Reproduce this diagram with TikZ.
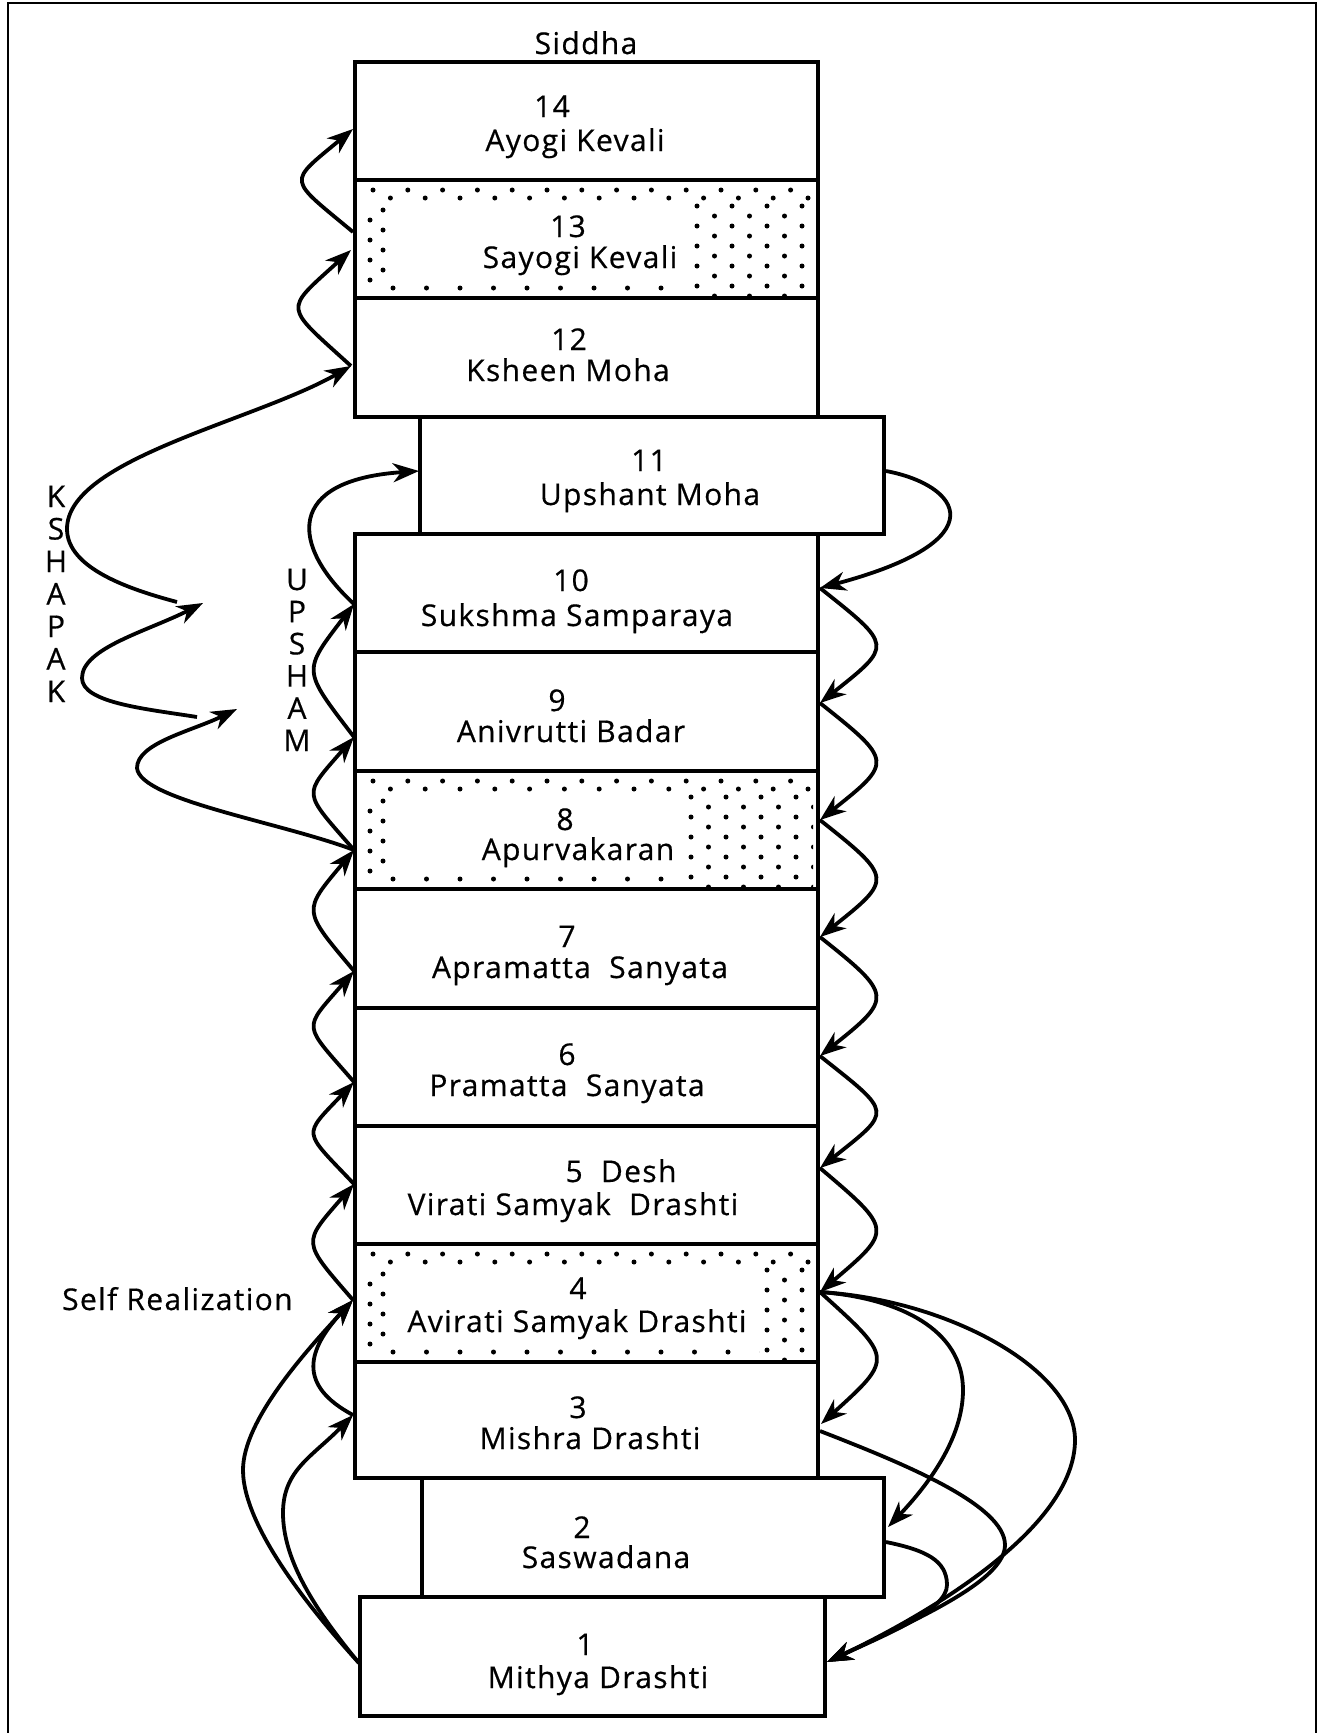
\documentclass[tikz,border=0pt]{standalone}
\usepackage{fontspec}
\setmainfont[LetterSpace=4.5,FakeBold=0.5]{Open Sans}
\usetikzlibrary{arrows.meta}
\newcommand\stipple[2]{%
\begin{scope}[shift={(#1.north west)}]
 \foreach \k in {0,...,12} {\fill (18+34.8*\k,10) circle[radius=2.5pt]; \fill (35.4+34.8*\k,18) circle[radius=2.5pt];}
 \foreach \k in {0,...,3} {\fill (28,30+20*\k) circle[radius=2.5pt]; \fill (15,40+20*\k) circle[radius=2.5pt];}
 \begin{scope}
  \clip (0,0) rectangle (#2-8,118);
  \foreach \k in {0,...,13} {\fill (38+33.5*\k,108) circle[radius=2.5pt];}
 \end{scope}
 \begin{scope}
  \clip (#2-3,0) rectangle (458,118);
  \foreach \i in {0,...,7} \foreach \j in {0,...,4} {\fill ({#2+17.5*\i},{26+20*\j+10*mod(\i,2)}) circle[radius=2.5pt];}
 \end{scope}
\end{scope}}
\begin{document}
\begin{tikzpicture}[x=1pt,y=-1pt,
  box/.style={draw, line width=4.2pt, outer sep=0pt, inner sep=0pt, minimum width=463pt},
  lbl/.style={anchor=base, inner sep=0pt, font=\fontsize{30}{36}\selectfont},
  arr/.style={line width=3.8pt, -{Stealth[length=26pt,width=19pt,inset=8pt]}}]
\useasboundingbox (0,0) rectangle (1320,1733);
\draw[line width=2.8pt] (8,1733) -- (8,3) -- (1316,3) -- (1316,1733);

% boxes
\node[box, minimum height=118pt] (b14) at (586.5,121) {};
\node[box, minimum height=118pt] (b13) at (586.5,239) {};
\node[box, minimum height=119pt] (b12) at (586.5,357.5) {};
\node[box, minimum height=117pt, minimum width=464pt] (b11) at (652,475.5) {};
\node[box, minimum height=118pt] (b10) at (586.5,593) {};
\node[box, minimum height=119pt] (b9) at (586.5,711.5) {};
\node[box, minimum height=118pt] (b8) at (586.5,830) {};
\node[box, minimum height=119pt] (b7) at (586.5,948.5) {};
\node[box, minimum height=118pt] (b6) at (586.5,1067) {};
\node[box, minimum height=118pt] (b5) at (586.5,1185) {};
\node[box, minimum height=118pt] (b4) at (586.5,1303) {};
\node[box, minimum height=116pt] (b3) at (586.5,1420) {};
\node[box, minimum height=119pt, minimum width=462pt] (b2) at (653,1537.5) {};
\node[box, minimum height=119pt, minimum width=465pt] (b1) at (592.5,1656.5) {};

% stippled boxes
\stipple{b13}{342}
\stipple{b8}{336}
\stipple{b4}{412}

% labels
\node[lbl] (sid) at (586,54) {Siddha};
\node[lbl] (n14) at (552,117) {14};
\node[lbl] (t14) at (575,151) {Ayogi Kevali};
\node[lbl] (n13) at (568,237) {13};
\node[lbl] (t13) at (580,268) {Sayogi Kevali};
\node[lbl] (n12) at (569,350) {12};
\node[lbl] (t12) at (568,381) {Ksheen Moha};
\node[lbl] (n11) at (649,471) {11};
\node[lbl] (t11) at (650,505) {Upshant Moha};
\node[lbl] (n10) at (571,591) {10};
\node[lbl] (t10) at (577,626) {Sukshma Samparaya};
\node[lbl] (n9) at (557,711) {9};
\node[lbl] (t9) at (571,742) {Anivrutti Badar};
\node[lbl] (n8) at (565,830) {8};
\node[lbl] (t8) at (578,860) {Apurvakaran};
\node[lbl] (n7) at (567,947) {7};
\node[lbl] (t7) at (580,978) {Apramatta\ \ Sanyata};
\node[lbl] (n6) at (567,1065) {6};
\node[lbl] (t6) at (567,1096) {Pramatta\ \ Sanyata};
\node[lbl] (n5) at (621,1182) {5\ \ Desh};
\node[lbl] (t5) at (573,1215) {Virati Samyak\ \ Drashti};
\node[lbl] (n4) at (578,1299) {4};
\node[lbl] (t4) at (577,1332) {Avirati Samyak Drashti};
\node[lbl] (n3) at (578,1418) {3};
\node[lbl] (t3) at (590,1449) {Mishra Drashti};
\node[lbl] (n2) at (582,1538) {2};
\node[lbl] (t2) at (606,1568) {Saswadana};
\node[lbl] (n1) at (585,1655) {1};
\node[lbl] (t1) at (598,1688) {Mithya Drashti};
\node[lbl, anchor=base west] (selfr) at (62,1310) {Self Realization};

% vertical words
\foreach \c [count=\i from 0] in {K,S,H,A,P,A,K}
  \node[lbl] (ks\i) at (56,507+32.5*\i) {\c};
\foreach \c [count=\i from 0] in {U,P,S,H,A,M}
  \node[lbl] (up\i) at (297,590+32.2*\i) {\c};

% contact points
\coordinate (L14) at (353,129);
\coordinate (L13s) at (353,232);
\coordinate (L13) at (351,250);
\coordinate (L12) at (351,366);
\coordinate (L11) at (419,471);
\coordinate (L10) at (354,604);
\coordinate (L9) at (354,737);
\coordinate (L8) at (354,850);
\coordinate (L7) at (354,971);
\coordinate (L6) at (354,1082);
\coordinate (L5) at (354,1184);
\coordinate (L4) at (353,1300);
\coordinate (L3) at (353,1415);
\coordinate (L1) at (359,1663);
\coordinate (R11) at (886,471);
\coordinate (R10) at (820,588);
\coordinate (R9) at (820,703);
\coordinate (R8) at (820,820);
\coordinate (R7) at (820,937);
\coordinate (R6) at (820,1056);
\coordinate (R5) at (820,1168);
\coordinate (R4) at (820,1292);
\coordinate (R3) at (821,1424);
\coordinate (R3s) at (820,1431);
\coordinate (R2) at (888,1527);
\coordinate (R2s) at (886,1542);
\coordinate (R1) at (827,1662);
\coordinate (KA) at (177,602);
\coordinate (KBtip) at (203,603);
\coordinate (KB) at (197,717);
\coordinate (KCtip) at (237,709);

% left chain (upwards)
\draw[arr] (L4) .. controls +(-52,-60) and +(-52,60) .. (L5);
\draw[arr] (L5) .. controls +(-52,-55) and +(-52,55) .. (L6);
\draw[arr] (L6) .. controls +(-52,-60) and +(-52,60) .. (L7);
\draw[arr] (L7) .. controls +(-52,-62) and +(-52,62) .. (L8);
\draw[arr] (L8) .. controls +(-52,-60) and +(-52,60) .. (L9);
\draw[arr] (L9) .. controls +(-52,-68) and +(-52,68) .. (L10);
\draw[arr] (L10) .. controls (290,545) and (285,480) .. (L11);
\draw[arr] (L12) .. controls +(-68,-62) and +(-68,62) .. (L13);
\draw[arr] (L13s) .. controls +(-66,-55) and +(-66,55) .. (L14);
\draw[arr] (L3) .. controls (297,1385) and (307,1350) .. (L4);
\draw[arr] (L1) .. controls (320,1620) and (243,1530) .. (243,1470) .. controls (243,1420) and (307,1350) .. (L4);
\draw[arr] (L1) .. controls (315,1610) and (283,1560) .. (283,1513) .. controls (283,1470) and (312,1457) .. (L3);

% KSHAPAK zigzag
\draw[arr] (L8) .. controls (280,822) and (140,800) .. (137,768) .. controls (137,743) and (192,731) .. (KCtip);
\draw[arr] (KB) .. controls (147,709) and (82,703) .. (82,678) .. controls (82,648) and (148,631) .. (KBtip);
\draw[arr] (KA) .. controls (132,590) and (67,569) .. (67,529) .. controls (67,459) and (255,421) .. (L12);

% right chain (downwards)
\draw[arr] (R11) .. controls (960,485) and (1000,540) .. (R10);
\draw[arr] (R10) .. controls +(73,58) and +(73,-58) .. (R9);
\draw[arr] (R9) .. controls +(73,58) and +(73,-58) .. (R8);
\draw[arr] (R8) .. controls +(73,58) and +(73,-58) .. (R7);
\draw[arr] (R7) .. controls +(73,58) and +(73,-58) .. (R6);
\draw[arr] (R6) .. controls +(73,58) and +(73,-58) .. (R5);
\draw[arr] (R5) .. controls +(73,62) and +(73,-62) .. (R4);
\draw[arr] (R4) .. controls +(73,66) and +(73,-66) .. (R3);

% falls to 2 and 1
\draw[arr] (R4) .. controls (900,1298) and (963,1330) .. (963,1390) .. controls (963,1440) and (926,1487) .. (R2);
\draw[arr] (R4) .. controls (950,1300) and (1075,1370) .. (1075,1440) .. controls (1075,1530) and (922,1617) .. (R1);
\draw[arr] (R3s) .. controls (905,1464) and (1005,1505) .. (1005,1545) .. controls (1005,1580) and (922,1617) .. (R1);
\draw[arr] (R2s) .. controls (925,1550) and (947,1560) .. (947,1585) .. controls (947,1610) and (887,1634) .. (R1);
\end{tikzpicture}
\end{document}
